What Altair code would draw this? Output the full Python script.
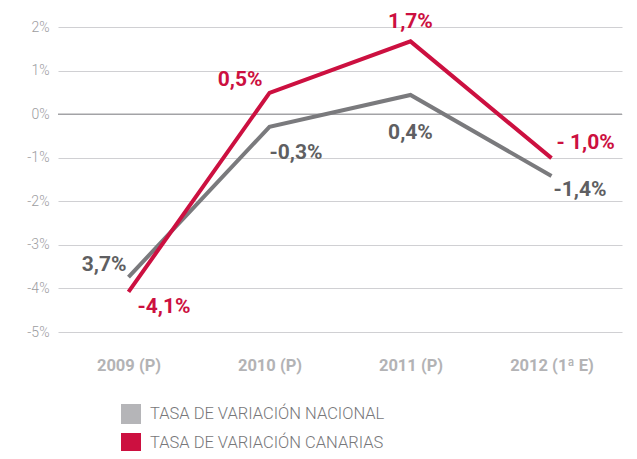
import altair as alt
import pandas as pd

categories = ["2009 (P)", "2010 (P)", "2011 (P)", "2012 (1ª E)"]
series_names = ["TASA DE VARIACIÓN NACIONAL", "TASA DE VARIACIÓN CANARIAS"]
nacional = [-3.74, -0.29, 0.44, -1.42]
canarias = [-4.08, 0.49, 1.67, -1.01]
labels_nac = ["3,7%", "-0,3%", "0,4%", "-1,4%"]
labels_can = ["-4,1%", "0,5%", "1,7%", "- 1,0%"]
y_ticks = [-5, -4, -3, -2, -1, 0, 1, 2]

rows = []
for i, c in enumerate(categories):
    rows.append({"series": series_names[0], "cat": c, "i": i, "value": nacional[i], "label": labels_nac[i]})
for i, c in enumerate(categories):
    rows.append({"series": series_names[1], "cat": c, "i": i, "value": canarias[i], "label": labels_can[i]})
df = pd.DataFrame(rows)

line_colors = ["#7a7a7d", "#cc1040"]
legend_colors = ["#b5b5b8", "#cc1040"]
text_colors = ["#5f5f62", "#cc1040"]

x_enc = alt.X("cat:N", sort=categories, scale=alt.Scale(type="point", padding=0.5),
              axis=alt.Axis(labelAngle=0, ticks=False, domain=False, grid=False,
                            labelFontWeight="bold", labelColor="#b3b3b5", labelFontSize=16.5,
                            labelFont="Roboto", labelPadding=25, title=None))
y_enc = alt.Y("value:Q", scale=alt.Scale(domain=[-5, 2], nice=False),
              axis=alt.Axis(values=y_ticks, labelExpr="datum.value + '%'", ticks=False,
                            domain=False, gridColor="#d0d0d3", gridWidth=1.2,
                            labelColor="#9d9d9f", labelFontSize=14, labelFont="Roboto",
                            labelFontWeight=300, labelPadding=9, title=None))

base = alt.Chart(df)

zero = alt.Chart(pd.DataFrame({"v": [0]})).mark_rule(color="#a3a3a6", strokeWidth=1.5).encode(
    y=alt.Y("v:Q"))

line_layers = []
for s in range(2):
    ln = base.transform_filter(alt.datum.series == series_names[s]).mark_line(
        strokeWidth=4, strokeJoin="miter", color=line_colors[s]).encode(
        x=x_enc, y=y_enc, order=alt.Order("i:Q"))
    line_layers.append(ln)

legend_layer = base.transform_filter("false").mark_square(opacity=1).encode(
    fill=alt.Fill("series:N", scale=alt.Scale(domain=series_names, range=legend_colors),
                  legend=alt.Legend(title=None, orient="none", legendX=63, legendY=377,
                                    symbolType="square", symbolSize=400, symbolStrokeWidth=0,
                                    symbolOpacity=1, labelLimit=400,
                                    labelFont="Roboto", labelFontSize=16.5, labelFontWeight=300,
                                    labelColor="#77777a", labelOffset=9, rowPadding=9,
                                    padding=0, direction="vertical")),
)

# label placement (series index, point index, align, dx, dy)
placements = [
    (0, 0, "right", -2, -12),
    (0, 1, "left", 0, 26),
    (0, 2, "center", 0, 38),
    (0, 3, "left", 2, 14),
    (1, 0, "left", 9, 15),
    (1, 1, "right", -7, -13),
    (1, 2, "center", 0, -19),
    (1, 3, "left", 5, -15),
]
texts = []
for s, i, align, dx, dy in placements:
    t = base.transform_filter(
        (alt.datum.series == series_names[s]) & (alt.datum.i == i)
    ).mark_text(align=align, baseline="middle", dx=dx, dy=dy, font="Roboto",
                fontWeight="bold", fontSize=21, color=text_colors[s]).encode(
        x=alt.X("cat:N", sort=categories), y=alt.Y("value:Q"), text="label:N")
    texts.append(t)

chart = alt.layer(zero, *line_layers, legend_layer, *texts).properties(
    width=564, height=305,
    autosize=alt.AutoSizeParams(type="none"),
    padding={"left": 50, "top": 19, "right": 7, "bottom": 119},
).configure_view(stroke=None)

chart.save("out.html", embed_options={"renderer": "svg", "actions": False})
